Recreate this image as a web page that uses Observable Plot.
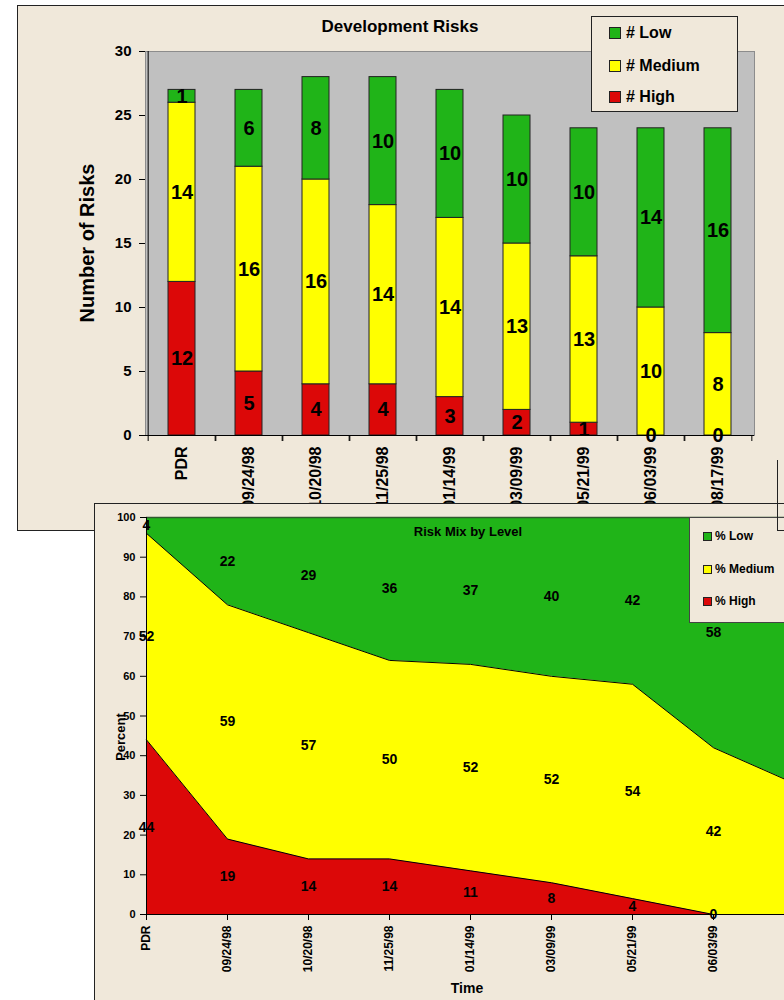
<!DOCTYPE html>
<html><head><meta charset="utf-8">
<script src="https://cdn.jsdelivr.net/npm/d3@7"></script>
<script src="https://cdn.jsdelivr.net/npm/@observablehq/plot@0.6"></script>
<style>
body{margin:0;background:#fff;font-family:"Liberation Sans",Arial,sans-serif;font-weight:bold;}
#wrap{position:relative;width:784px;height:1000px;overflow:hidden;background:#fff;}
.abs{position:absolute;}
.lbl{position:absolute;white-space:nowrap;color:#000;font-weight:bold;}
</style></head><body><div id="wrap"></div>
<script>
// ---- data ----
const dates = ["PDR","09/24/98","10/20/98","11/25/98","01/14/99","03/09/99","05/21/99","06/03/99","08/17/99"];
const highCount   = [12,5,4,4,3,2,1,0,0];
const mediumCount = [14,16,16,14,14,13,13,10,8];
const lowCount    = [1,6,8,10,10,10,10,14,16];
const highPct   = [44,19,14,14,11,8,4,0,0];
const mediumPct = [52,59,57,50,52,52,54,42,33];
const lowPct    = [4,22,29,36,37,40,42,58,67];
const levels = ["Low","Medium","High"];
const levelColors = ["#20b418","#ffff00","#dc0808"];
const countTicks = [0,5,10,15,20,25,30];
const pctTicks = [0,10,20,30,40,50,60,70,80,90,100];
const countLegend = ["# Low","# Medium","# High"];
const pctLegend = ["% Low","% Medium","% High"];

const BEIGE = "#f0e8da";
const FONT = '"Liberation Sans", Arial, sans-serif';
const wrap = document.getElementById("wrap");

function rows(h, m, l) {
  const out = [];
  dates.forEach((d, i) => {
    out.push({date: d, level: "High", value: h[i]});
    out.push({date: d, level: "Medium", value: m[i]});
    out.push({date: d, level: "Low", value: l[i]});
  });
  return out;
}
const countRows = rows(highCount, mediumCount, lowCount);
const pctRows = rows(highPct, mediumPct, lowPct);
const color = {domain: levels, range: levelColors};

function box(left, top, width, height, css) {
  const d = document.createElement("div");
  d.className = "abs";
  Object.assign(d.style, {left: left + "px", top: top + "px", width: width + "px", height: height + "px", boxSizing: "border-box"}, css || {});
  wrap.appendChild(d);
  return d;
}
function label(text, x, y, size, rotate) {
  const d = document.createElement("div");
  d.className = "lbl";
  d.textContent = text;
  Object.assign(d.style, {left: x + "px", top: y + "px", fontSize: size + "px", fontFamily: FONT,
    transform: "translate(-50%,-50%)" + (rotate ? " rotate(-90deg)" : "")});
  wrap.appendChild(d);
  return d;
}
function legend(left, top, width, height, border, names, sw, swX, txtX, rowYs, size) {
  box(left, top, width, height, {background: BEIGE, border: border});
  names.forEach((n, i) => {
    box(swX, rowYs[i] - sw / 2, sw, sw, {background: levelColors[i], border: "1px solid #222"});
    const t = document.createElement("div");
    t.className = "lbl";
    t.textContent = n;
    Object.assign(t.style, {left: txtX + "px", top: rowYs[i] + "px", fontSize: size + "px", fontFamily: FONT, transform: "translateY(-50%)"});
    wrap.appendChild(t);
  });
}

// ---- top panel ----
box(17, 5, 790, 526, {background: BEIGE, borderLeft: "1px solid #222", borderTop: "1px solid #222", borderBottom: "1px solid #222"});

const W1 = 784, H1 = 530, ML1 = 145, MR1 = 30;
const step1 = (W1 - ML1 - MR1) / dates.length;
const topChart = Plot.plot({
  width: W1, height: H1,
  marginLeft: ML1, marginRight: MR1, marginTop: 51, marginBottom: 95,
  style: {background: "transparent", maxWidth: "none", fontFamily: FONT, fontWeight: "bold", overflow: "visible"},
  x: {domain: dates, paddingInner: 0.6, paddingOuter: 0.3, axis: null},
  y: {domain: [0, 30], axis: null},
  color,
  marks: [
    Plot.frame({fill: "#c0c0c0", stroke: "#8c8c8c"}),
    Plot.barY(countRows, Plot.stackY({x: "date", y: "value", z: "level", fill: "level", stroke: "#222", strokeWidth: 1})),
    Plot.text(countRows, Plot.stackY({x: "date", y: "value", z: "level", text: "value", fontSize: 20, fill: "#000"})),
    Plot.ruleY([0], {stroke: "#000"}),
    Plot.ruleX([dates[0]], {dx: -step1 / 2, stroke: "#000"}),
    Plot.axisY({ticks: countTicks, tickSize: 6, tickPadding: 8, fontSize: 15, label: null, stroke: "#000"}),
    Plot.axisX({tickSize: 0, tickPadding: 11, tickRotate: -90, fontSize: 16, label: null}),
    Plot.axisX({tickSize: 6, tickFormat: () => "", dx: -step1 / 2, label: null, stroke: "#000"}),
    Plot.axisX({tickSize: 6, tickFormat: () => "", dx: step1 / 2, label: null, stroke: "#000"})
  ]
});
topChart.style.position = "absolute";
topChart.style.left = "0px";
topChart.style.top = "0px";
wrap.appendChild(topChart);

label("Development Risks", 400, 27, 17);
label("Number of Risks", 87, 243, 20, true);
legend(591, 16, 147, 96, "1px solid #222", countLegend, 12, 609, 626, [33, 66, 97], 16);

// ---- bottom panel ----
box(94, 503, 720, 520, {background: BEIGE, borderLeft: "1.5px solid #222", borderTop: "1.5px solid #222"});

// the last date sits just past the right edge of the picture, so its texts are not drawn
const shownDates = dates.slice(0, -1);
const W2 = 810, H2 = 510, ML2 = 146, MR2 = 16;
const bottomChart = Plot.plot({
  width: W2, height: H2,
  marginLeft: ML2, marginRight: MR2, marginTop: 27, marginBottom: 86,
  style: {background: "transparent", maxWidth: "none", fontFamily: FONT, fontWeight: "bold", overflow: "visible"},
  x: {domain: dates, type: "point", padding: 0, axis: null},
  y: {domain: [0, 100], axis: null},
  color,
  marks: [
    Plot.areaY(pctRows, Plot.stackY({x: "date", y: "value", z: "level", fill: "level"})),
    Plot.lineY(pctRows.filter(r => r.level !== "Low"), Plot.stackY2({x: "date", y: "value", z: "level", stroke: "#000", strokeWidth: 1})),
    Plot.ruleY([100], {stroke: "#2e5a2e", strokeWidth: 1.5}),
    Plot.ruleY([0], {stroke: "#000"}),
    Plot.ruleX([dates[0]], {stroke: "#000"}),
    Plot.text(pctRows, Plot.stackY({x: "date", y: "value", z: "level", text: "value", fontSize: 14, fill: "#000",
      filter: r => shownDates.includes(r.date)})),
    Plot.axisY({ticks: pctTicks, tickSize: 6, tickPadding: 5, fontSize: 11, label: null, stroke: "#000"}),
    Plot.axisX({ticks: shownDates, tickSize: 6, tickPadding: 5, tickRotate: -90, fontSize: 12, label: null, stroke: "#000"})
  ]
});
bottomChart.style.position = "absolute";
bottomChart.style.left = "0px";
bottomChart.style.top = "490px";
wrap.appendChild(bottomChart);

label("Risk Mix by Level", 468, 531, 13);
label("Percent", 120, 737, 13, true);
label("Time", 467, 988, 14);
legend(689, 517, 110, 106, "1px solid #444", pctLegend, 9, 703, 715, [536, 569, 601], 12);

// frame edge at the right
box(777, 460, 1, 71, {background: "#222"});
box(777, 530, 10, 1, {background: "#222"});
</script>
</body></html>
